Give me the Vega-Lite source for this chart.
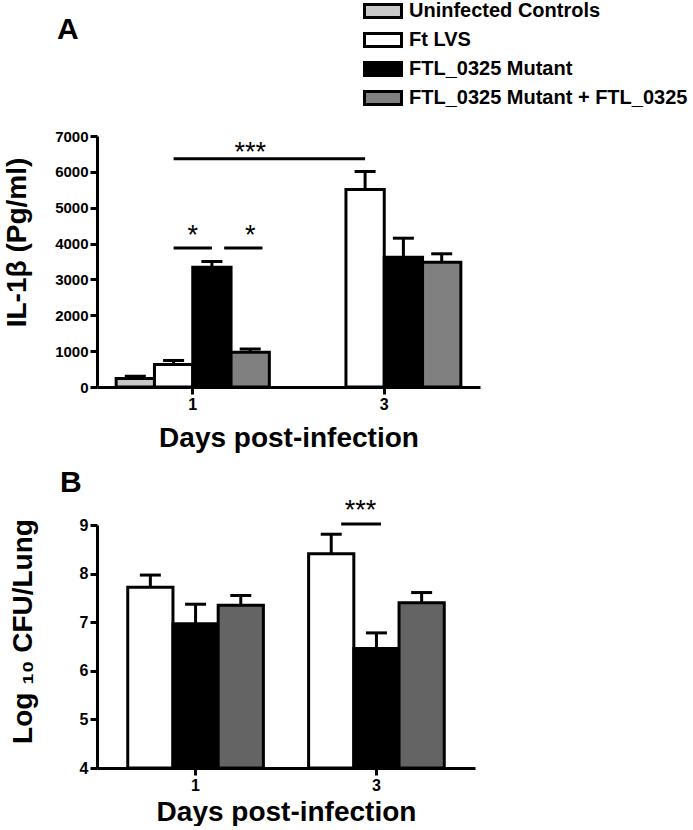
{
  "$schema": "https://vega.github.io/schema/vega-lite/v6.json",
  "background": "white",
  "padding": {"left": 3, "top": 0, "right": 5, "bottom": 0},
  "config": {
    "view": {"stroke": null},
    "font": "Liberation Sans",
    "axis": {
      "grid": false,
      "domainColor": "black", "domainWidth": 3,
      "tickColor": "black", "tickWidth": 3, "tickSize": 7,
      "labelColor": "black", "labelFont": "Liberation Sans", "labelFontWeight": "bold", "labelFontSize": 15, "labelPadding": 2,
      "labelOverlap": false,
      "titleColor": "black", "titleFont": "Liberation Sans", "titleFontWeight": "bold", "titleFontSize": 28
    },
    "title": {"font": "Liberation Sans", "fontWeight": "bold", "color": "black"}
  },
  "datasets": {
    "il1b": [
      {"day": "1", "group": "Uninfected Controls", "mean": 240, "upper": 300},
      {"day": "1", "group": "Ft LVS", "mean": 630, "upper": 740},
      {"day": "1", "group": "FTL_0325 Mutant", "mean": 3340, "upper": 3500},
      {"day": "1", "group": "FTL_0325 Mutant + FTL_0325", "mean": 970, "upper": 1060},
      {"day": "3", "group": "Ft LVS", "mean": 5510, "upper": 6010},
      {"day": "3", "group": "FTL_0325 Mutant", "mean": 3620, "upper": 4150},
      {"day": "3", "group": "FTL_0325 Mutant + FTL_0325", "mean": 3480, "upper": 3715}
    ],
    "cfu": [
      {"day": "1", "group": "Ft LVS", "mean": 7.72, "upper": 7.97},
      {"day": "1", "group": "FTL_0325 Mutant", "mean": 6.97, "upper": 7.37},
      {"day": "1", "group": "FTL_0325 Mutant + FTL_0325", "mean": 7.35, "upper": 7.55},
      {"day": "3", "group": "Ft LVS", "mean": 8.41, "upper": 8.81},
      {"day": "3", "group": "FTL_0325 Mutant", "mean": 6.46, "upper": 6.78},
      {"day": "3", "group": "FTL_0325 Mutant + FTL_0325", "mean": 7.40, "upper": 7.61}
    ]
  },
  "bounds": "flush",
  "spacing": 138,
  "resolve": {"scale": {"fill": "independent", "x": "independent", "y": "independent", "xOffset": "independent"}},
  "vconcat": [
    {
      "width": 383,
      "height": 251,
      "title": {"text": "A", "anchor": "start", "frame": "group", "dx": -40, "offset": -45, "fontSize": 30},
      "resolve": {"scale": {"x": "independent"}},
      "layer": [
        {
          "data": {"name": "il1b"},
          "layer": [
            {
              "mark": {"type": "bar", "stroke": "black", "strokeWidth": 3},
              "encoding": {
                "x": {"field": "day", "type": "nominal", "scale": {"paddingInner": 0.2, "paddingOuter": 0.1},
                      "axis": {"title": "Days post-infection", "labelAngle": 0, "labelFontSize": 16, "titlePadding": 12}},
                "xOffset": {"field": "group", "type": "nominal",
                            "scale": {"domain": ["Uninfected Controls", "Ft LVS", "FTL_0325 Mutant", "FTL_0325 Mutant + FTL_0325"]}},
                "y": {"field": "mean", "type": "quantitative", "title": "IL-1β (Pg/ml)",
                      "scale": {"domain": [0, 7000], "nice": false},
                      "axis": {"values": [0, 1000, 2000, 3000, 4000, 5000, 6000, 7000], "format": "d", "titlePadding": 23, "titleY": 106}},
                "fill": {"field": "group", "type": "nominal",
                         "scale": {"domain": ["Uninfected Controls", "Ft LVS", "FTL_0325 Mutant", "FTL_0325 Mutant + FTL_0325"],
                                   "range": ["#c8c8c8", "#ffffff", "#000000", "#808080"]},
                         "legend": {"title": null, "orient": "none", "legendX": 275, "legendY": -136,
                                    "symbolType": "M-2,-0.7L2,-0.7L2,0.7L-2,0.7Z", "symbolSize": 342,
                                    "symbolStrokeColor": "black", "symbolStrokeWidth": 3, "symbolOpacity": 1,
                                    "labelFont": "Liberation Sans", "labelFontSize": 20, "labelFontWeight": "bold",
                                    "labelColor": "black", "labelOffset": 15, "labelLimit": 400, "rowPadding": 3, "padding": 0}}
              }
            },
            {
              "mark": {"type": "rule", "strokeWidth": 3, "color": "black"},
              "encoding": {
                "x": {"field": "day", "type": "nominal"},
                "xOffset": {"field": "group", "type": "nominal"},
                "y": {"field": "mean", "type": "quantitative", "title": "IL-1β (Pg/ml)",
                      "axis": {"values": [0, 1000, 2000, 3000, 4000, 5000, 6000, 7000], "format": "d", "titlePadding": 23, "titleY": 106}},
                "y2": {"field": "upper"}
              }
            },
            {
              "mark": {"type": "tick", "thickness": 3, "size": 21, "color": "black", "opacity": 1},
              "encoding": {
                "x": {"field": "day", "type": "nominal"},
                "xOffset": {"field": "group", "type": "nominal"},
                "y": {"field": "upper", "type": "quantitative", "title": "IL-1β (Pg/ml)",
                      "axis": {"values": [0, 1000, 2000, 3000, 4000, 5000, 6000, 7000], "format": "d", "titlePadding": 23, "titleY": 106}}
              }
            }
          ]
        },
        {
          "layer": [
            {
              "data": {"values": [
                {"from": "1|Ft LVS", "to": "3|Ft LVS", "y": 6367},
                {"from": "1|Ft LVS", "to": "1|FTL_0325 Mutant", "y": 3877}
              ]},
              "mark": {"type": "rule", "strokeWidth": 3, "color": "black"},
              "encoding": {
                "x": {"field": "from", "type": "nominal", "bandPosition": 0.5, "axis": null,
                      "scale": {"domain": ["1|Uninfected Controls", "1|Ft LVS", "1|FTL_0325 Mutant", "1|FTL_0325 Mutant + FTL_0325", "1–3", "3|Uninfected Controls", "3|Ft LVS", "3|FTL_0325 Mutant", "3|FTL_0325 Mutant + FTL_0325"],
                                "paddingInner": 0, "paddingOuter": 0.5}},
                "x2": {"field": "to", "bandPosition": 0.5},
                "y": {"field": "y", "type": "quantitative", "title": "IL-1β (Pg/ml)",
                      "axis": {"values": [0, 1000, 2000, 3000, 4000, 5000, 6000, 7000], "format": "d", "titlePadding": 23, "titleY": 106}}
              }
            },
            {
              "data": {"values": [
                {"from": "1|FTL_0325 Mutant", "to": "1|FTL_0325 Mutant + FTL_0325", "y": 3877}
              ]},
              "mark": {"type": "rule", "strokeWidth": 3, "color": "black"},
              "encoding": {
                "x": {"field": "from", "type": "nominal", "bandPosition": 0.82, "axis": null},
                "x2": {"field": "to", "bandPosition": 0.82},
                "y": {"field": "y", "type": "quantitative", "title": "IL-1β (Pg/ml)",
                      "axis": {"values": [0, 1000, 2000, 3000, 4000, 5000, 6000, 7000], "format": "d", "titlePadding": 23, "titleY": 106}}
              }
            },
            {
              "data": {"values": [
                {"at": "1|FTL_0325 Mutant", "y": 3997, "label": "*"}
              ]},
              "mark": {"type": "text", "font": "Liberation Sans", "fontSize": 27, "baseline": "alphabetic", "align": "center", "color": "black"},
              "encoding": {
                "x": {"field": "at", "type": "nominal", "bandPosition": 0, "axis": null},
                "y": {"field": "y", "type": "quantitative", "title": "IL-1β (Pg/ml)",
                      "axis": {"values": [0, 1000, 2000, 3000, 4000, 5000, 6000, 7000], "format": "d", "titlePadding": 23, "titleY": 106}},
                "text": {"field": "label"}
              }
            },
            {
              "data": {"values": [
                {"at": "1|FTL_0325 Mutant + FTL_0325", "y": 3997, "label": "*"},
                {"at": "1|FTL_0325 Mutant + FTL_0325", "y": 6300, "label": "***"}
              ]},
              "mark": {"type": "text", "font": "Liberation Sans", "fontSize": 27, "baseline": "alphabetic", "align": "center", "color": "black"},
              "encoding": {
                "x": {"field": "at", "type": "nominal", "bandPosition": 0.5, "axis": null},
                "y": {"field": "y", "type": "quantitative", "title": "IL-1β (Pg/ml)",
                      "axis": {"values": [0, 1000, 2000, 3000, 4000, 5000, 6000, 7000], "format": "d", "titlePadding": 23, "titleY": 106}},
                "text": {"field": "label"}
              }
            }
          ]
        }
      ]
    },
    {
      "width": 378,
      "height": 243,
      "title": {"text": "B", "anchor": "start", "frame": "group", "dx": -37, "offset": -1, "fontSize": 30},
      "resolve": {"scale": {"x": "independent"}},
      "layer": [
        {
          "data": {"name": "cfu"},
          "layer": [
            {
              "mark": {"type": "bar", "stroke": "black", "strokeWidth": 3},
              "encoding": {
                "x": {"field": "day", "type": "nominal", "scale": {"paddingInner": 0.25, "paddingOuter": 0.17},
                      "axis": {"title": "Days post-infection", "labelAngle": 0, "labelFontSize": 16, "titlePadding": 5}},
                "xOffset": {"field": "group", "type": "nominal",
                            "scale": {"domain": ["Ft LVS", "FTL_0325 Mutant", "FTL_0325 Mutant + FTL_0325"]}},
                "y": {"field": "mean", "type": "quantitative", "title": "Log ₁₀ CFU/Lung",
                      "scale": {"domain": [4, 9], "nice": false, "zero": false},
                      "axis": {"values": [4, 5, 6, 7, 8, 9], "format": "d", "labelFontSize": 16, "titlePadding": 42, "titleY": 106}},
                "y2": {"datum": 4},
                "fill": {"field": "group", "type": "nominal",
                         "scale": {"domain": ["Ft LVS", "FTL_0325 Mutant", "FTL_0325 Mutant + FTL_0325"],
                                   "range": ["#ffffff", "#000000", "#646464"]},
                         "legend": null}
              }
            },
            {
              "mark": {"type": "rule", "strokeWidth": 3, "color": "black"},
              "encoding": {
                "x": {"field": "day", "type": "nominal"},
                "xOffset": {"field": "group", "type": "nominal"},
                "y": {"field": "mean", "type": "quantitative", "title": "Log ₁₀ CFU/Lung",
                      "axis": {"values": [4, 5, 6, 7, 8, 9], "format": "d", "labelFontSize": 16, "titlePadding": 42, "titleY": 106}},
                "y2": {"field": "upper"}
              }
            },
            {
              "mark": {"type": "tick", "thickness": 3, "size": 21, "color": "black", "opacity": 1},
              "encoding": {
                "x": {"field": "day", "type": "nominal"},
                "xOffset": {"field": "group", "type": "nominal"},
                "y": {"field": "upper", "type": "quantitative", "title": "Log ₁₀ CFU/Lung",
                      "axis": {"values": [4, 5, 6, 7, 8, 9], "format": "d", "labelFontSize": 16, "titlePadding": 42, "titleY": 106}}
              }
            }
          ]
        },
        {
          "layer": [
            {
              "data": {"values": [
                {"from": "3|Ft LVS", "to": "3|FTL_0325 Mutant", "y": 9.02}
              ]},
              "mark": {"type": "rule", "strokeWidth": 3, "color": "black"},
              "encoding": {
                "x": {"field": "from", "type": "nominal", "bandPosition": 0.72, "axis": null,
                      "scale": {"domain": ["1|Ft LVS", "1|FTL_0325 Mutant", "1|FTL_0325 Mutant + FTL_0325", "1–3", "3|Ft LVS", "3|FTL_0325 Mutant", "3|FTL_0325 Mutant + FTL_0325"],
                                "paddingInner": 0, "paddingOuter": 0.68}},
                "x2": {"field": "to", "bandPosition": 0.6},
                "y": {"field": "y", "type": "quantitative", "title": "Log ₁₀ CFU/Lung",
                      "axis": {"values": [4, 5, 6, 7, 8, 9], "format": "d", "labelFontSize": 16, "titlePadding": 42, "titleY": 106}}
              }
            },
            {
              "data": {"values": [
                {"at": "3|FTL_0325 Mutant", "y": 9.12, "label": "***"}
              ]},
              "mark": {"type": "text", "font": "Liberation Sans", "fontSize": 27, "baseline": "alphabetic", "align": "center", "color": "black"},
              "encoding": {
                "x": {"field": "at", "type": "nominal", "bandPosition": 0.15, "axis": null},
                "y": {"field": "y", "type": "quantitative", "title": "Log ₁₀ CFU/Lung",
                      "axis": {"values": [4, 5, 6, 7, 8, 9], "format": "d", "labelFontSize": 16, "titlePadding": 42, "titleY": 106}},
                "text": {"field": "label"}
              }
            }
          ]
        }
      ]
    }
  ]
}
